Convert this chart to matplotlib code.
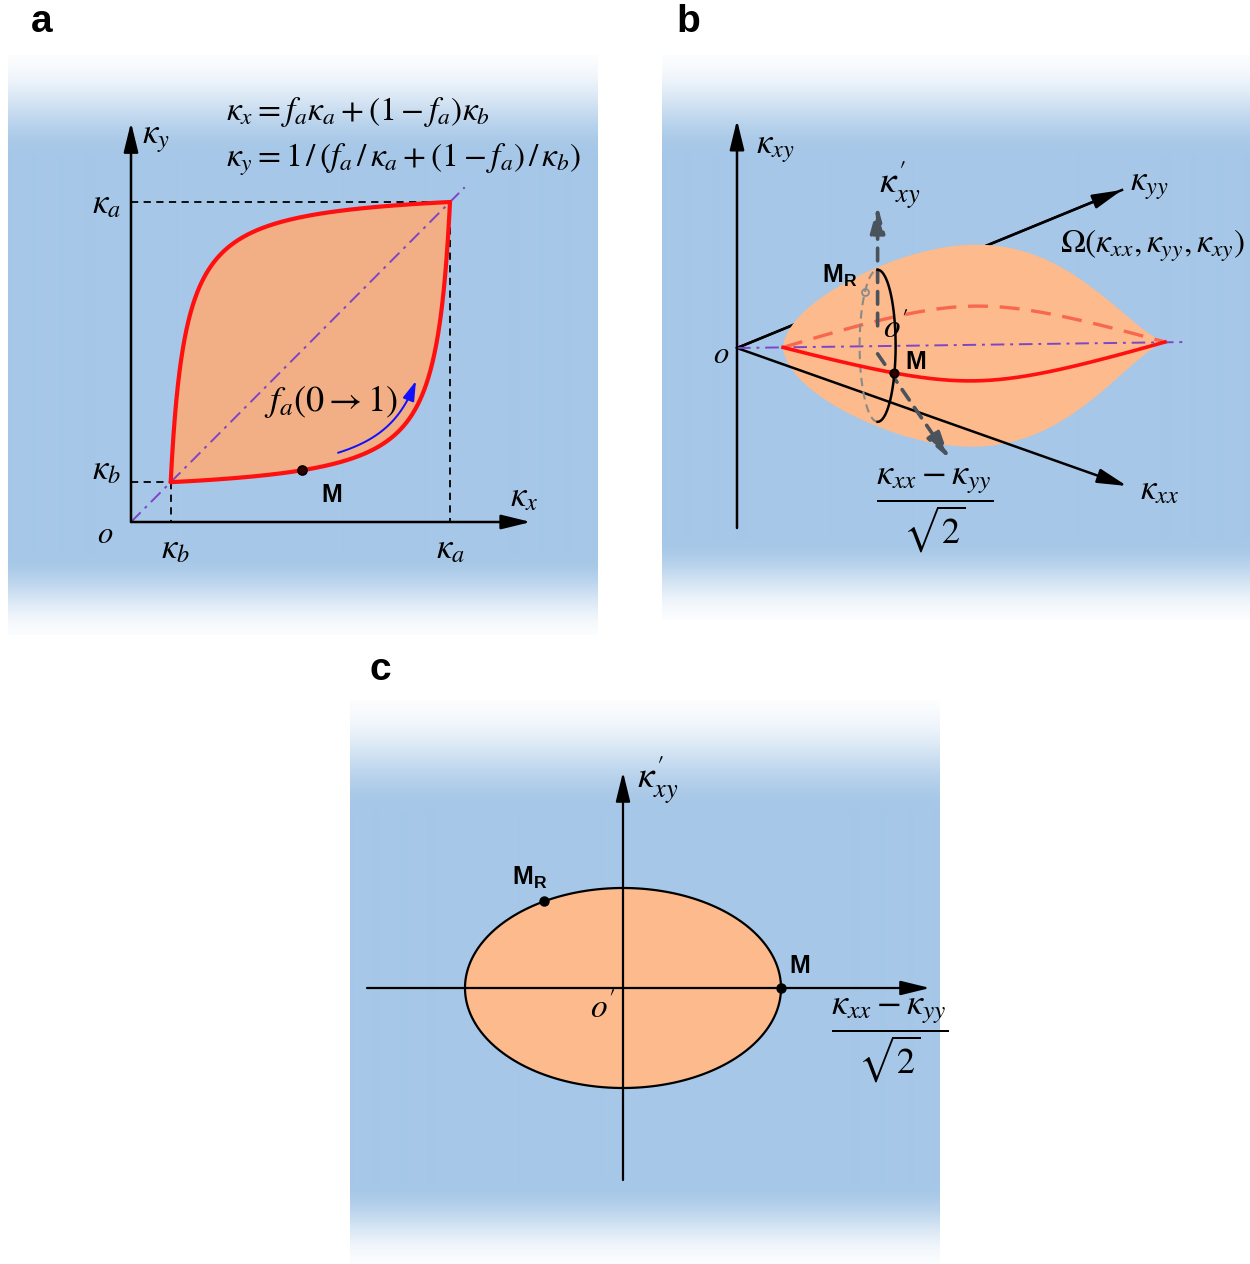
import numpy as np
import matplotlib.pyplot as plt

plt.rcParams['font.family'] = ['Liberation Sans', 'DejaVu Sans']
plt.rcParams['mathtext.fontset'] = 'stix'
plt.rcParams['mathtext.bf'] = 'Liberation Sans:bold'
plt.rcParams['mathtext.rm'] = 'Liberation Sans'

# ---- model values -------------------------------------------------------
KA, KB, K0 = 20.0, 1.0, -1.7          # kappa_a, kappa_b, drawn origin (panel a)
FA = np.linspace(0, 1, 400)          # volume fraction f_a
FA_M = 0.47                          # point M on the bound (panel a)
FA_M_B = 0.53                        # point M in panel b
FA_ARROW = (0.63, 0.91)              # span of the blue f_a arrow

# panel b projection (screen units, origin at O)
AX_XY_TIP, AX_XY_BOT = 228, -180
AX_XX_TIP = (390, -138)
AX_YY_TIP = (385, 158)
DIAG_END = (450, 6)
P_KB, P_KA = (46, 0.6), (428, 6)     # where kappa_b and kappa_a land on the diagonal
BLOB_H = (100, 102)                   # half heights of the lens above / below
W_SCALE = (6.0, 6.4)                  # front / back bound deviation scale
CS_R, CS_A = 76, 18                   # cross-section ellipse semi axes
TH_MR_B = 135
DASH_UP, DASH_DIAG = 140, (72, -113)

# panel c ellipse
A_C, B_C = 1.58, 1.0
TH_MR_C = 120
C_HAX, C_VAX = (-2.56, 3.07), (-1.92, 2.16)

BLUE_BG = np.array([166, 199, 231]) / 255
FILL_A, FILL_B = '#f2ae84', '#fdba8c'
RED, RED_D, PURPLE = '#ff1010', '#f8684e', '#7d45c8'

W, H = 1250, 1264
fig = plt.figure(figsize=(W / 100, H / 100), dpi=100)
bg = fig.add_axes([0, 0, 1, 1])
bg.axis('off')


def gradient(box, top, bot):
    x0, y0, x1, y1 = box
    y = np.arange(y0, y1) + 0.5
    s1 = np.clip((y - y0) / top, 0, 1)
    s2 = np.clip((y1 - y) / bot, 0, 1)
    sm = lambda s: s * s * (3 - 2 * s)
    a = 0.05 + 0.95 * np.minimum(sm(s1), sm(s2))
    img = (1 - a)[:, None] + a[:, None] * BLUE_BG[None, :]
    bg.imshow(img[:, None, :], extent=(x0, x1, y1, y0), aspect='auto',
              interpolation='bilinear')


BOX_A, BOX_B, BOX_C = (8, 55, 598, 635), (662, 55, 1250, 620), (350, 700, 940, 1264)
gradient(BOX_A, 100, 80)
gradient(BOX_B, 100, 80)
gradient(BOX_C, 110, 80)
bg.set_xlim(0, W)
bg.set_ylim(H, 0)


def add_panel(box, xmap, ymap):
    x0, y0, x1, y1 = box
    ax = fig.add_axes([x0 / W, 1 - y1 / H, (x1 - x0) / W, (y1 - y0) / H])
    v1, p1, v2, p2 = xmap
    s = (p2 - p1) / (v2 - v1)
    ax.set_xlim(v1 + (x0 - p1) / s, v1 + (x1 - p1) / s)
    v1, p1, v2, p2 = ymap
    s = (p2 - p1) / (v2 - v1)
    ax.set_ylim(v1 + (y1 - p1) / s, v1 + (y0 - p1) / s)
    ax.axis('off')
    return ax


def arrow(ax, start, end, color='k', lw=1.6, hl=0.9, hw=0.22, z=5, ls='-'):
    ax.annotate('', xy=end, xytext=start, zorder=z,
                arrowprops=dict(arrowstyle=f'-|>,head_length={hl},head_width={hw}',
                                color=color, lw=lw, ls=ls, shrinkA=0, shrinkB=0,
                                mutation_scale=20))


# ---- panel a ------------------------------------------------------------
axa = add_panel(BOX_A, (K0, 131, KA, 450), (K0, 522, KA, 202))
kx = FA * KA + (1 - FA) * KB
ky = 1 / (FA / KA + (1 - FA) / KB)
axa.fill(np.r_[kx, ky[::-1]], np.r_[ky, kx[::-1]], color=FILL_A, lw=0, zorder=1)
axa.plot([K0, KA + 1.0], [K0, KA + 1.0], color=PURPLE, lw=1.4, ls=(0, (7, 3, 1.5, 3)), zorder=2)
for xs, ys in [([K0, KA], [KA, KA]), ([KA, KA], [KA, K0]),
               ([K0, KB], [KB, KB]), ([KB, KB], [KB, K0])]:
    axa.plot(xs, ys, color='k', lw=1.3, ls=(0, (4, 3)), zorder=2)
axa.plot(kx, ky, color=RED, lw=3.0, zorder=3, solid_capstyle='round')
axa.plot(ky, kx, color=RED, lw=3.0, zorder=3, solid_capstyle='round')
arrow(axa, (K0, K0), (K0 + 27.2, K0), lw=1.8)
arrow(axa, (K0, K0), (K0, K0 + 27.1), lw=1.8)
fm_x = FA_M * KA + (1 - FA_M) * KB
fm_y = 1 / (FA_M / KA + (1 - FA_M) / KB)
axa.plot(fm_x, fm_y, 'o', ms=6.5, mfc='#300000', mec='k', mew=1.2, zorder=6)
seg = (FA >= FA_ARROW[0]) & (FA <= FA_ARROW[1])
bx, by = kx[seg] - 0.6, ky[seg] + 0.5
axa.plot(bx[:-3], by[:-3], color='#1010ff', lw=1.4, zorder=4)
arrow(axa, (bx[-6], by[-6]), (bx[-1], by[-1]), color='#1010ff', lw=1.4, hl=0.6, hw=0.18)

# ---- panel b ------------------------------------------------------------
axb = add_panel(BOX_B, (0, 737, 1, 738), (0, 348, 1, 347))


def diag(u):
    t = (u - KB) / (KA - KB)
    return P_KB[0] + t * (P_KA[0] - P_KB[0]), P_KB[1] + t * (P_KA[1] - P_KB[1])


u_bound = (kx + ky) / 2
w_bound = (kx - ky) / 2
t = (u_bound - KB) / (KA - KB)
prof = (4 * t * (1 - t)).clip(0) ** (0.62 + 0.75 * t)
dx, dy = diag(u_bound)
axb.fill(np.r_[dx, dx[::-1]], np.r_[dy + BLOB_H[0] * prof, (dy - BLOB_H[1] * prof)[::-1]],
         color=FILL_B, lw=0, zorder=2)
axb.plot([0, AX_YY_TIP[0]], [0, AX_YY_TIP[1]], color='k', lw=1.8, zorder=1)
arrow(axb, (0, 0), AX_YY_TIP, z=1, lw=1.8)
arrow(axb, (0, AX_XY_BOT), (0, AX_XY_TIP), lw=1.8)
arrow(axb, (0, 0), AX_XX_TIP, lw=1.8, z=4)
axb.plot(dx, dy + W_SCALE[1] * w_bound, color=RED_D, lw=2.4, ls=(0, (6, 3.5)), zorder=3)
axb.plot([0, DIAG_END[0]], [0, DIAG_END[1]], color=PURPLE, lw=1.4,
         ls=(0, (7, 3, 1.5, 3)), zorder=4)

um = (FA_M_B * KA + (1 - FA_M_B) * KB + 1 / (FA_M_B / KA + (1 - FA_M_B) / KB)) / 2
wm = (FA_M_B * KA + (1 - FA_M_B) * KB - 1 / (FA_M_B / KA + (1 - FA_M_B) / KB)) / 2
mx, my = diag(um)
my = my - W_SCALE[0] * wm
th_m = np.arcsin(-W_SCALE[0] * wm / CS_R)
cx, cy = mx - CS_A * np.cos(th_m), my - CS_R * np.sin(th_m)
th = np.radians(np.linspace(-90, 90, 100))
axb.plot(cx - CS_A * np.cos(th), cy + CS_R * np.sin(th), color='#8a8a8a', lw=1.5,
         ls=(0, (4, 2.5)), zorder=4)
arrow(axb, (cx, cy + 20), (cx, cy + DASH_UP), color='#4a525c', lw=2.6, ls=(0, (3.5, 2.5)),
      hl=0.8, hw=0.22, z=5)
arrow(axb, (cx, cy - 8), (cx + DASH_DIAG[0], cy + DASH_DIAG[1]), color='#4a525c', lw=2.6,
      ls=(0, (3.5, 2.5)), hl=0.8, hw=0.22, z=5)
axb.plot(dx, dy - W_SCALE[0] * w_bound, color=RED, lw=2.6, zorder=6)
axb.plot(cx + CS_A * np.cos(th), cy + CS_R * np.sin(th), color='k', lw=1.8, zorder=7)
axb.plot(mx, my, 'o', ms=6, mfc='#300000', mec='k', mew=1.2, zorder=8)
tr = np.radians(TH_MR_B)
axb.plot(cx + CS_A * np.cos(tr), cy + CS_R * np.sin(tr), 'o', ms=5, mfc='none',
         mec='#8a8a8a', mew=1.3, zorder=8)

# ---- panel c ------------------------------------------------------------
axc = add_panel(BOX_C, (0, 623, 1, 723), (0, 988, 1, 888))
ang = np.linspace(0, 2 * np.pi, 300)
axc.fill(A_C * np.cos(ang), B_C * np.sin(ang), facecolor=FILL_B, edgecolor='k', lw=1.6, zorder=1)
arrow(axc, (C_HAX[0], 0), (C_HAX[1], 0), lw=1.6)
arrow(axc, (0, C_VAX[0]), (0, C_VAX[1]), lw=1.6)
axc.plot(A_C, 0, 'o', ms=6.5, color='k', zorder=6)
tr = np.radians(TH_MR_C)
axc.plot(A_C * np.cos(tr), B_C * np.sin(tr), 'o', ms=6.5, color='k', zorder=6)

# ---- text overlay (pixel coordinates) -----------------------------------
top = fig.add_axes([0, 0, 1, 1])
top.axis('off')
top.set_xlim(0, W)
top.set_ylim(H, 0)


def txt(x, y, s, size=25, **kw):
    kw.setdefault('ha', 'center')
    kw.setdefault('va', 'center')
    top.text(x, y, s, fontsize=size, **kw)


def mlabel(x, y, sub=False, size=18):
    s = r'$\mathbf{M}_\mathbf{R}$' if sub else r'$\mathbf{M}$'
    top.text(x, y, s, fontsize=size, ha='left', va='center', math_fontfamily='custom')


FRAC = r'$\dfrac{\kappa_{xx}-\kappa_{yy}}{\sqrt{2}}$'
KXY_P = r'$\kappa^{\prime}_{xy}$'
O_P = r'$o^{\prime}$'

for (x, y), lab in zip([(42, 22), (688, 22), (380, 670)], 'abc'):
    txt(x, y, lab, size=28, fontweight='bold')

txt(226, 112, r'$\kappa_x=f_a\kappa_a+(1-f_a)\kappa_b$', size=24, ha='left')
txt(226, 160, r'$\kappa_y=1\,/\,(f_a\,/\,\kappa_a+(1-f_a)\,/\,\kappa_b)$', size=24, ha='left')
txt(142, 138, r'$\kappa_y$', ha='left')
txt(106, 204, r'$\kappa_a$')
txt(106, 470, r'$\kappa_b$')
txt(105, 535, r'$o$', size=22)
txt(175, 549, r'$\kappa_b$')
txt(450, 549, r'$\kappa_a$')
txt(524, 497, r'$\kappa_x$')
txt(331, 402, r'$f_a(0\rightarrow1)$', size=26)
mlabel(321, 495)

txt(756, 148, r'$\kappa_{xy}$', ha='left')
txt(879, 185, KXY_P, size=27, ha='left')
txt(1130, 185, r'$\kappa_{yy}$', ha='left')
txt(1060, 246, r'$\Omega(\kappa_{xx},\kappa_{yy},\kappa_{xy})$', size=24, ha='left')
mlabel(822, 276, sub=True)
txt(721, 355, r'$o$', size=22)
txt(896, 328, O_P, size=24)
mlabel(905, 362)
txt(935, 510, FRAC, size=26)
txt(1140, 490, r'$\kappa_{xx}$', ha='left')

txt(637, 780, KXY_P, size=27, ha='left')
mlabel(512, 878, sub=True)
mlabel(789, 966)
txt(603, 1008, O_P, size=24)
txt(890, 1040, FRAC, size=26)

fig.savefig('out.png', dpi=100)
